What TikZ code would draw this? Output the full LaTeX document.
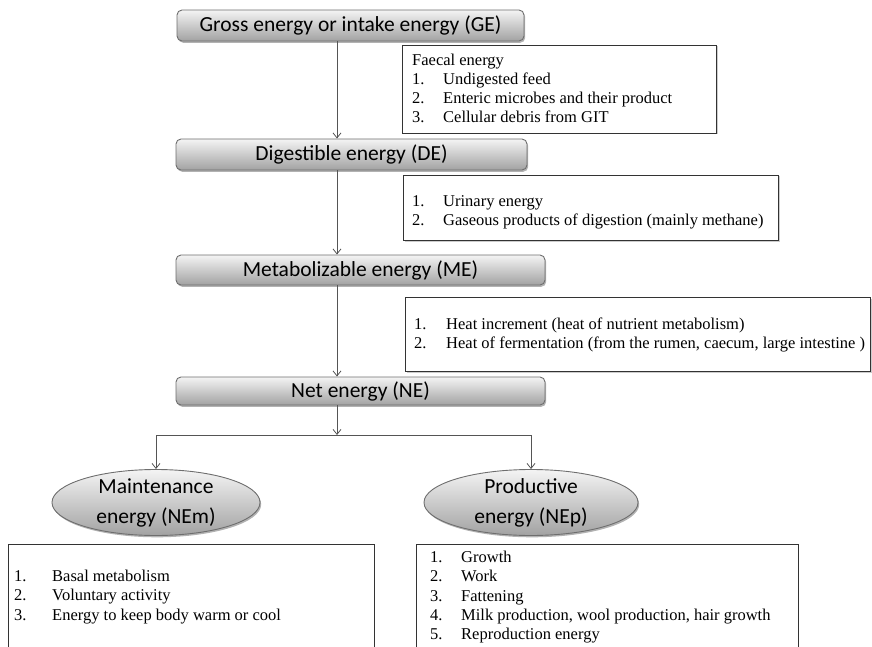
\documentclass[tikz,border=0pt]{standalone}
\usepackage{fontspec}
\setmainfont{Liberation Serif}
\newfontfamily\calib{Carlito}
\usetikzlibrary{arrows.meta,shapes.geometric,shadows}

\definecolor{edgegray}{HTML}{6E6E6E}
\definecolor{linegray}{HTML}{555555}
\definecolor{boxtop}{HTML}{F4F4F4}
\definecolor{boxbot}{HTML}{A2A2A2}
\definecolor{listedge}{HTML}{333333}

\begin{document}
\begin{tikzpicture}[x=1pt,y=-1pt,
  head/.style={draw=edgegray, line width=0.9pt, rounded corners=5pt,
    top color=boxtop, bottom color=boxbot,
    drop shadow={shadow xshift=1.2pt, shadow yshift=-1.8pt, fill=black, opacity=0.3},
    font=\calib\fontsize{21.5}{26}\selectfont, inner sep=0pt},
  oval/.style={ellipse, draw=edgegray, line width=0.9pt,
    top color=boxtop, bottom color=boxbot,
    drop shadow={shadow xshift=1.2pt, shadow yshift=-1.8pt, fill=black, opacity=0.3},
    inner sep=0pt, minimum width=208pt, minimum height=66pt},
  ovaltext/.style={font=\calib\fontsize{21.5}{30}\selectfont, align=center, inner sep=0pt},
  listbox/.style={draw=listedge, line width=1pt, fill=white, anchor=north west, inner sep=0pt,
    drop shadow={shadow xshift=1pt, shadow yshift=-1pt, fill=black, opacity=0.2}},
  listtext/.style={anchor=west, inner sep=0pt, align=left,
    font=\fontsize{16.5}{19}\selectfont},
  opentext/.style={anchor=north west, inner sep=0pt, align=left,
    font=\fontsize{16.5}{19.3}\selectfont},
  listline/.style={draw=listedge, line width=1pt},
  conn/.style={draw=linegray, line width=0.8pt, -{Straight Barb[length=5pt,width=8pt]}}
]
\useasboundingbox (0,0) rectangle (872,647);

\coordinate (spine) at (337,0);
\coordinate (fork) at (337,435);

% main energy boxes
\node[head, minimum width=347pt, minimum height=31pt] (GE) at (350.5,25.5) {Gross energy or intake energy (GE)};
\node[head, minimum width=351pt, minimum height=31pt] (DE) at (351.5,154.5) {Digestible energy (DE)};
\node[head, minimum width=369pt, minimum height=30pt] (ME) at (360.5,270) {Metabolizable energy (ME)};
\node[head, minimum width=369pt, minimum height=28pt] (NE) at (360.5,391) {Net energy (NE)};

% loss boxes
\node[listbox, minimum width=314pt, minimum height=88pt] (fae) at (402,45) {};
\node[listtext] (faetext) at ([xshift=10pt,yshift=1pt]fae.west)
  {Faecal energy\\
   \makebox[31pt][l]{1.}Undigested feed\\
   \makebox[31pt][l]{2.}Enteric microbes and their product\\
   \makebox[31pt][l]{3.}Cellular debris from GIT};
\node[listbox, minimum width=375pt, minimum height=65pt] (uri) at (403,175) {};
\node[listtext] (uritext) at ([xshift=9pt,yshift=-4pt]uri.west)
  {\makebox[31pt][l]{1.}Urinary energy\\
   \makebox[31pt][l]{2.}Gaseous products of digestion (mainly methane)};
\node[listbox, minimum width=465pt, minimum height=74pt] (heat) at (405,297) {};
\node[listtext] (heattext) at ([xshift=9pt]heat.west)
  {\makebox[32pt][l]{1.}Heat increment (heat of nutrient metabolism)\\
   \makebox[32pt][l]{2.}Heat of fermentation (from the rumen, caecum, large intestine )};

% ovals
\node[oval, label={[ovaltext]center:{Maintenance\\energy (NEm)}}] (nem) at (156,502.5) {};
\node[oval, minimum width=214pt, label={[ovaltext]center:{Productive\\energy (NEp)}}] (nep) at (531,502.5) {};

% bottom open boxes
\node[anchor=north west, minimum width=366pt, minimum height=104pt, inner sep=0pt] (nemlist) at (8,544) {};
\node[anchor=north west, minimum width=382pt, minimum height=104pt, inner sep=0pt] (neplist) at (416,544) {};
\draw[listline] (nemlist.south west) -- (nemlist.north west) -- (nemlist.north east) -- (nemlist.south east);
\draw[listline] (neplist.south west) -- (neplist.north west) -- (neplist.north east) -- (neplist.south east);

\node[opentext] (nemitems) at ([shift={(6pt,-26pt)}]nemlist.north west)
  {\makebox[38pt][l]{1.}Basal metabolism\\
   \makebox[38pt][l]{2.}Voluntary activity\\
   \makebox[38pt][l]{3.}Energy to keep body warm or cool};
\node[opentext] (nepitems) at ([shift={(14pt,-7pt)}]neplist.north west)
  {\makebox[31pt][l]{1.}Growth\\
   \makebox[31pt][l]{2.}Work\\
   \makebox[31pt][l]{3.}Fattening\\
   \makebox[31pt][l]{4.}Milk production, wool production, hair growth\\
   \makebox[31pt][l]{5.}Reproduction energy};

% connectors
\draw[conn] (GE.south -| spine) -- (DE.north -| spine);
\draw[conn] (DE.south -| spine) -- (ME.north -| spine);
\draw[conn] (ME.south -| spine) -- (NE.north -| spine);
\draw[conn] (NE.south -| spine) -- (fork);
\draw[conn] (fork) -| (nem.north);
\draw[conn] (fork) -| (nep.north);
\end{tikzpicture}
\end{document}
